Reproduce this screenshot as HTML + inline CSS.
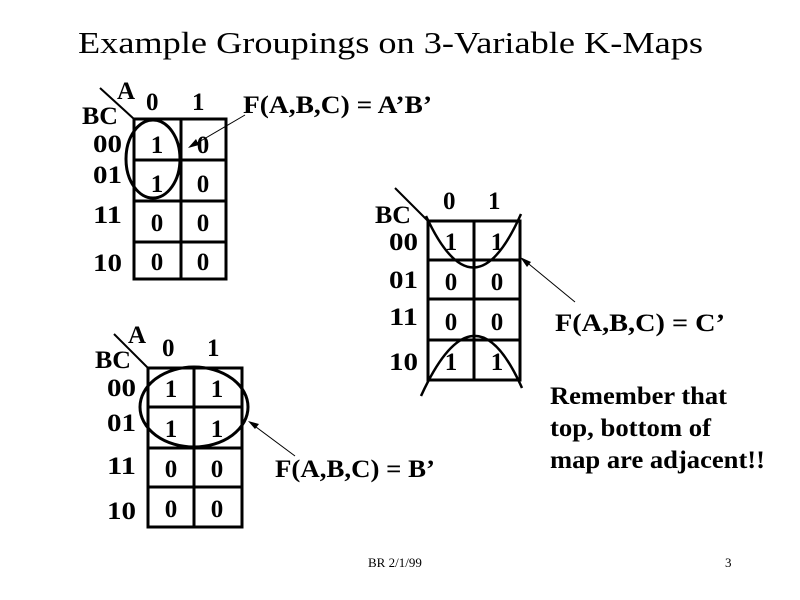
<!DOCTYPE html>
<html><head><style>body{margin:0;background:#fff}svg{display:block}</style></head><body>
<svg width="800" height="600" xmlns="http://www.w3.org/2000/svg" font-family="Liberation Serif, serif">
<rect width="800" height="600" fill="#fff"/>
<text x="78" y="53" font-size="31" textLength="625" lengthAdjust="spacingAndGlyphs">Example Groupings on  3-Variable K-Maps</text>
<g stroke="#000" stroke-width="3" fill="none">
<rect x="134" y="119" width="92" height="160"/>
<line x1="181" y1="119" x2="181" y2="279"/>
<line x1="134" y1="160" x2="226" y2="160"/><line x1="134" y1="201" x2="226" y2="201"/><line x1="134" y1="242" x2="226" y2="242"/>
<rect x="428" y="221" width="92" height="159"/>
<line x1="474" y1="221" x2="474" y2="380"/>
<line x1="428" y1="260" x2="520" y2="260"/><line x1="428" y1="299" x2="520" y2="299"/><line x1="428" y1="340" x2="520" y2="340"/>
<rect x="148" y="368" width="94" height="159"/>
<line x1="194" y1="368" x2="194" y2="527"/>
<line x1="148" y1="407" x2="242" y2="407"/><line x1="148" y1="448" x2="242" y2="448"/><line x1="148" y1="487" x2="242" y2="487"/>
</g>
<g stroke="#000" stroke-width="2" fill="none">
<line x1="100" y1="88" x2="134" y2="119"/>
<line x1="395" y1="188" x2="428" y2="221"/>
<line x1="114" y1="334" x2="148" y2="368"/>
<ellipse cx="153" cy="159" rx="27" ry="39" stroke-width="3"/>
<ellipse cx="194" cy="407" rx="54" ry="40" stroke-width="3"/>
<path d="M426 216 Q474 320 521 214" stroke-width="2.5"/>
<path d="M421 396 Q474 280 522 388" stroke-width="2.5"/>
</g>
<g stroke="#000" stroke-width="1">
<line x1="245" y1="115" x2="192" y2="146"/>
<line x1="575" y1="302" x2="524" y2="260"/>
<line x1="295" y1="456" x2="252" y2="424"/>
</g>
<g fill="#000">
<polygon points="188,148 196,139 199,145"/>
<polygon points="520,257 531,262 527,267"/>
<polygon points="248,421 259,424 255,429"/>
</g>
<g font-size="25" font-weight="bold" lengthAdjust="spacingAndGlyphs">
<text x="117" y="99">A</text><text x="82" y="124" textLength="36" lengthAdjust="spacingAndGlyphs">BC</text>
<text x="146" y="110">0</text><text x="192" y="110">1</text>
<text x="93" y="152" textLength="29" lengthAdjust="spacingAndGlyphs">00</text><text x="93" y="183" textLength="29" lengthAdjust="spacingAndGlyphs">01</text><text x="93" y="223" textLength="29" lengthAdjust="spacingAndGlyphs">11</text><text x="93" y="271" textLength="29" lengthAdjust="spacingAndGlyphs">10</text>
<g text-anchor="middle">
<text x="157" y="153">1</text><text x="203" y="153">0</text>
<text x="157" y="192">1</text><text x="203" y="192">0</text>
<text x="157" y="231">0</text><text x="203" y="231">0</text>
<text x="157" y="270">0</text><text x="203" y="270">0</text>
</g>
<text x="243" y="113" textLength="189" lengthAdjust="spacingAndGlyphs">F(A,B,C) = A’B’</text>

<text x="375" y="223" textLength="36" lengthAdjust="spacingAndGlyphs">BC</text>
<text x="443" y="209">0</text><text x="488" y="209">1</text>
<text x="389" y="250" textLength="29" lengthAdjust="spacingAndGlyphs">00</text><text x="389" y="288" textLength="29" lengthAdjust="spacingAndGlyphs">01</text><text x="389" y="325" textLength="29" lengthAdjust="spacingAndGlyphs">11</text><text x="389" y="370" textLength="29" lengthAdjust="spacingAndGlyphs">10</text>
<g text-anchor="middle">
<text x="451" y="250">1</text><text x="497" y="250">1</text>
<text x="451" y="290">0</text><text x="497" y="290">0</text>
<text x="451" y="330">0</text><text x="497" y="330">0</text>
<text x="451" y="370">1</text><text x="497" y="370">1</text>
</g>
<text x="555" y="331" textLength="170" lengthAdjust="spacingAndGlyphs">F(A,B,C) = C’</text>
<text x="550" y="404" textLength="177" lengthAdjust="spacingAndGlyphs">Remember that</text>
<text x="550" y="436" textLength="161" lengthAdjust="spacingAndGlyphs">top, bottom of</text>
<text x="550" y="468" textLength="215" lengthAdjust="spacingAndGlyphs">map are adjacent!!</text>

<text x="128" y="343">A</text><text x="95" y="368" textLength="36" lengthAdjust="spacingAndGlyphs">BC</text>
<text x="162" y="356">0</text><text x="207" y="356">1</text>
<text x="107" y="396" textLength="29" lengthAdjust="spacingAndGlyphs">00</text><text x="107" y="431" textLength="29" lengthAdjust="spacingAndGlyphs">01</text><text x="107" y="474" textLength="29" lengthAdjust="spacingAndGlyphs">11</text><text x="107" y="519" textLength="29" lengthAdjust="spacingAndGlyphs">10</text>
<g text-anchor="middle">
<text x="171" y="397">1</text><text x="217" y="397">1</text>
<text x="171" y="437">1</text><text x="217" y="437">1</text>
<text x="171" y="477">0</text><text x="217" y="477">0</text>
<text x="171" y="517">0</text><text x="217" y="517">0</text>
</g>
<text x="275" y="477" textLength="160" lengthAdjust="spacingAndGlyphs">F(A,B,C) = B’</text>
</g>
<text x="368" y="567" font-size="13">BR 2/1/99</text>
<text x="725" y="567" font-size="13">3</text>
</svg>
</body></html>
